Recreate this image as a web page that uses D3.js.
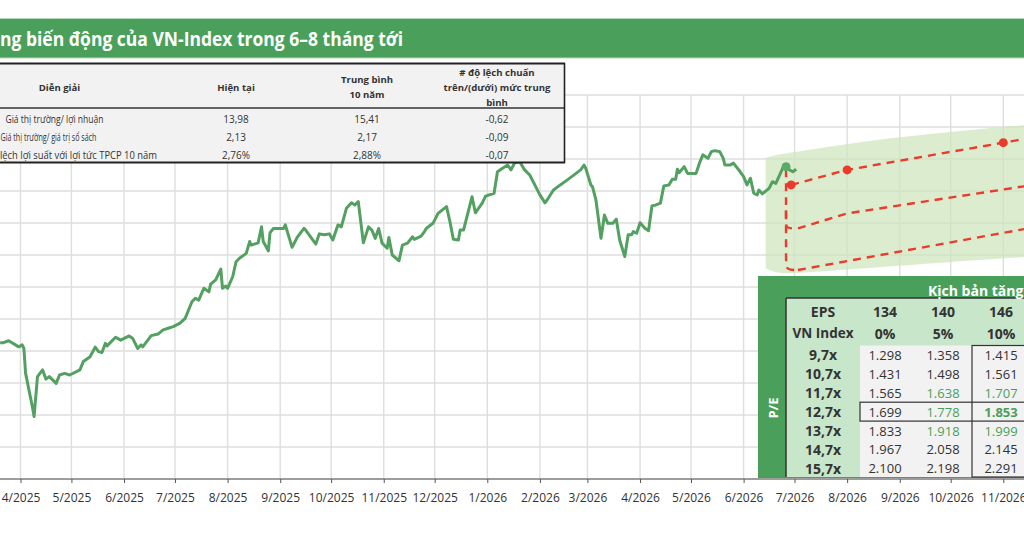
<!DOCTYPE html>
<html>
<head>
<meta charset="utf-8">
<script src="https://cdn.jsdelivr.net/npm/d3@7"></script>
<style>
html, body { margin: 0; padding: 0; background: #fff; }
svg { display: block; font-family: "Open Sans", sans-serif; }
</style>
</head>
<body>
<div id="chart"></div>
<script>
// ---- data ----
const titleText = "ng biến động của VN-Index trong 6–8 tháng tới";

const indexDates = ["2025-03-20","2025-03-22","2025-03-25","2025-03-31","2025-04-02","2025-04-03","2025-04-04","2025-04-08","2025-04-09","2025-04-11","2025-04-14","2025-04-16","2025-04-18","2025-04-22","2025-04-24","2025-04-27","2025-04-30","2025-05-06","2025-05-08","2025-05-12","2025-05-15","2025-05-17","2025-05-19","2025-05-21","2025-05-22","2025-05-27","2025-05-30","2025-06-04","2025-06-06","2025-06-09","2025-06-11","2025-06-12","2025-06-17","2025-06-21","2025-06-24","2025-06-27","2025-06-30","2025-07-04","2025-07-07","2025-07-11","2025-07-13","2025-07-15","2025-07-18","2025-07-21","2025-07-22","2025-07-25","2025-07-28","2025-07-29","2025-07-31","2025-08-01","2025-08-04","2025-08-06","2025-08-08","2025-08-12","2025-08-14","2025-08-15","2025-08-19","2025-08-21","2025-08-22","2025-08-25","2025-08-26","2025-08-28","2025-09-03","2025-09-04","2025-09-08","2025-09-11","2025-09-15","2025-09-16","2025-09-22","2025-09-24","2025-09-27","2025-09-30","2025-10-02","2025-10-05","2025-10-07","2025-10-10","2025-10-13","2025-10-15","2025-10-17","2025-10-20","2025-10-23","2025-10-25","2025-10-27","2025-10-29","2025-10-31","2025-11-03","2025-11-04","2025-11-06","2025-11-10","2025-11-12","2025-11-15","2025-11-18","2025-11-19","2025-11-23","2025-11-25","2025-11-26","2025-11-30","2025-12-03","2025-12-08","2025-12-10","2025-12-12","2025-12-15","2025-12-16","2025-12-18","2025-12-23","2025-12-25","2025-12-29","2025-12-31","2026-01-05","2026-01-07","2026-01-10","2026-01-13","2026-01-15","2026-01-17","2026-01-20","2026-01-23","2026-01-26","2026-01-29","2026-02-01","2026-02-04","2026-02-06","2026-02-09","2026-02-13","2026-02-17","2026-02-25","2026-02-27","2026-02-28","2026-03-03","2026-03-04","2026-03-06","2026-03-09","2026-03-11","2026-03-13","2026-03-16","2026-03-18","2026-03-20","2026-03-23","2026-03-25","2026-03-27","2026-03-28","2026-03-30","2026-04-01","2026-04-04","2026-04-06","2026-04-08","2026-04-10","2026-04-13","2026-04-15","2026-04-18","2026-04-20","2026-04-22","2026-04-23","2026-04-24","2026-04-27","2026-04-29","2026-05-04","2026-05-06","2026-05-08","2026-05-11","2026-05-13","2026-05-15","2026-05-18","2026-05-20","2026-05-21","2026-05-24","2026-05-26","2026-05-30","2026-06-01","2026-06-03","2026-06-05","2026-06-07","2026-06-09","2026-06-10","2026-06-12","2026-06-16","2026-06-18","2026-06-20","2026-06-24","2026-06-26","2026-06-28","2026-06-30","2026-07-02"];
const indexValues = [1326,1326,1332,1313,1319,1308,1230,1126,1095,1220,1241,1212,1220,1199,1225,1230,1225,1241,1267,1282,1312,1298,1295,1324,1316,1343,1334,1347,1340,1308,1319,1313,1348,1353,1366,1371,1376,1387,1402,1454,1465,1459,1496,1485,1509,1522,1556,1496,1503,1496,1532,1579,1590,1605,1642,1631,1638,1688,1642,1613,1670,1683,1683,1694,1624,1655,1683,1678,1634,1666,1663,1666,1647,1694,1688,1746,1763,1756,1767,1638,1688,1678,1652,1683,1637,1621,1655,1600,1582,1631,1637,1657,1649,1659,1673,1683,1699,1730,1751,1704,1649,1647,1678,1678,1782,1732,1762,1784,1793,1860,1871,1881,1866,1887,1892,1866,1850,1819,1788,1763,1778,1803,1819,1834,1866,1881,1871,1819,1813,1772,1652,1725,1699,1699,1712,1647,1595,1663,1663,1673,1668,1701,1683,1676,1753,1756,1762,1816,1819,1837,1837,1868,1857,1876,1855,1855,1887,1913,1902,1923,1926,1923,1902,1881,1881,1887,1860,1845,1819,1840,1793,1788,1803,1791,1808,1829,1824,1871,1876,1866,1860,1868];

const currentDate = "2026-06-26";
const currentValue = 1876;

// forecast scenarios (red dashed)
const highDates = ["2026-06-29","2026-08-01","2026-11-01","2026-12-01"];
const highValues = [1819,1866,1951,1979];
const highDotDates = ["2026-06-29","2026-08-01","2026-11-01"];
const highDotValues = [1819,1866,1951];
const midDates = ["2026-07-03","2026-08-01","2026-12-01"];
const midValues = [1683,1730,1829];
const lowDates = ["2026-07-03","2026-08-01","2026-12-01"];
const lowValues = [1553,1581,1698];
const lowConnectorDates = ["2026-06-26","2026-06-26","2026-06-26","2026-07-03"];
const lowConnectorValues = [1868,1580,1553,1553];
const midConnectorDates = ["2026-06-26","2026-06-26","2026-06-26","2026-07-03"];
const midConnectorValues = [1740,1700,1683,1683];

// shaded forecast band
const bandDates = ["2026-06-14","2026-06-18","2026-06-28","2026-07-27","2026-09-01","2026-10-06","2026-11-13","2026-12-01"];
const bandUpper = [1903,1911,1919,1944,1969,1988,2006,2012];
const bandLower = [1559,1547,1541,1553,1566,1581,1594,1598];

const yTicks = [900,1000,1100,1200,1300,1400,1500,1600,1700,1800,1900,2000,2100];

// summary table (top left)
const summaryHeaders = [["Diễn  giải"], ["Hiện tại"], ["Trung bình", "10 năm"], ["# độ lệch chuẩn", "trên/(dưới) mức trung", "bình"]];
const summaryLabels = ["Giá thị trường/ lợi nhuận", "Giá thị trường/ giá trị sổ sách", "Chênh lệch lợi suất với lợi tức TPCP 10 năm"];
const summaryCurrent = ["13,98", "2,13", "2,76%"];
const summaryAverage = ["15,41", "2,17", "2,88%"];
const summaryDeviation = ["-0,62", "-0,09", "-0,07"];

// scenario table (bottom right)
const scenarioTitle = "Kịch bản tăng trưởng EPS";
const epsValues = ["134", "140", "146"];
const growthLabels = ["0%", "5%", "10%"];
const peLabels = ["9,7x", "10,7x", "11,7x", "12,7x", "13,7x", "14,7x", "15,7x"];
const valuations = [
  ["1.298", "1.358", "1.415"],
  ["1.431", "1.498", "1.561"],
  ["1.565", "1.638", "1.707"],
  ["1.699", "1.778", "1.853"],
  ["1.833", "1.918", "1.999"],
  ["1.967", "2.058", "2.145"],
  ["2.100", "2.198", "2.291"]
];
const greenCells = ["2-1", "2-2", "3-1", "3-2", "4-1", "4-2"];
const boldCells = ["3-2"];

// ---- drawing ----
const width = 1024, height = 538;
const green = "#4aa05a", lineGreen = "#53a061", red = "#ea3b2c", dark = "#333";
const parse = d3.utcParse("%Y-%m-%d");

const svg = d3.select("#chart").append("svg")
  .attr("width", width)
  .attr("height", height);

const x = d3.scaleUtc()
  .domain([parse("2025-04-01"), parse("2026-11-01")])
  .range([20.5, 1003.3]);
const y = d3.scaleLinear().domain([900, 2100]).range([479, 95]);
const months = x.ticks(d3.utcMonth.every(1));

// title bar
svg.append("rect").attr("x", -2).attr("y", 18.5).attr("width", width + 4).attr("height", 39.5)
  .attr("fill", green).attr("stroke", "#b7dabc").attr("stroke-width", 1);
svg.append("text")
  .attr("x", 0).attr("y", 45.5)
  .attr("fill", "#fff").attr("font-weight", 700).attr("font-size", 19)
  .attr("textLength", 403).attr("lengthAdjust", "spacingAndGlyphs")
  .text(titleText);

// grid
const grid = svg.append("g").attr("stroke", "#dedede").attr("stroke-width", 1.4);
grid.selectAll(".h").data(yTicks).join("line")
  .attr("x1", 0).attr("x2", width)
  .attr("y1", d => y(d)).attr("y2", d => y(d));
grid.selectAll(".v").data(months).join("line")
  .attr("x1", d => x(d)).attr("x2", d => x(d))
  .attr("y1", y(2100)).attr("y2", y(900));

// forecast band
const band = bandDates.map((d, i) => ({date: parse(d), hi: bandUpper[i], lo: bandLower[i]}));
svg.append("path")
  .datum(band)
  .attr("fill", "#cfe6bd")
  .attr("fill-opacity", 0.72)
  .attr("d", d3.area().curve(d3.curveBasis)
    .x(d => x(d.date)).y0(d => y(d.lo)).y1(d => y(d.hi)));

// VN-Index line
const series = indexDates.map((d, i) => ({date: parse(d), value: indexValues[i]}));
const line = d3.line().x(d => x(d.date)).y(d => y(d.value));
svg.append("path")
  .datum(series)
  .attr("fill", "none")
  .attr("stroke", lineGreen)
  .attr("stroke-width", 3)
  .attr("stroke-linejoin", "round")
  .attr("d", line);

// scenario lines
function toPoints(dates, values) {
  return dates.map((d, i) => ({date: parse(d), value: values[i]}));
}
const dashed = svg.append("g")
  .attr("fill", "none")
  .attr("stroke", red)
  .attr("stroke-width", 2.4)
  .attr("stroke-dasharray", "8,6");
const curvy = d3.line().curve(d3.curveBasis).x(d => x(d.date)).y(d => y(d.value));
dashed.append("path").attr("d", curvy(toPoints(lowConnectorDates, lowConnectorValues)));
dashed.append("path").attr("d", curvy(toPoints(midConnectorDates, midConnectorValues)));
[[highDates, highValues], [midDates, midValues], [lowDates, lowValues]].forEach(([d, v]) => {
  dashed.append("path").attr("d", line(toPoints(d, v)));
});

svg.append("g").selectAll("circle")
  .data(toPoints(highDotDates, highDotValues))
  .join("circle")
  .attr("cx", d => x(d.date)).attr("cy", d => y(d.value))
  .attr("r", 4.5).attr("fill", red);

svg.append("circle")
  .attr("cx", x(parse(currentDate))).attr("cy", y(currentValue))
  .attr("r", 4.5).attr("fill", "#5aab68");

// x axis
svg.append("line")
  .attr("x1", 0).attr("x2", width)
  .attr("y1", 479).attr("y2", 479)
  .attr("stroke", "#555").attr("stroke-width", 1.2);
const xAxis = svg.append("g")
  .attr("transform", "translate(0,479)")
  .call(d3.axisBottom(x)
    .ticks(d3.utcMonth.every(1))
    .tickFormat(d => (d.getUTCMonth() + 1) + "/" + d.getUTCFullYear())
    .tickSize(4)
    .tickPadding(10));
xAxis.select(".domain").remove();
xAxis.selectAll("line").attr("stroke", "#555");
xAxis.selectAll("text")
  .attr("fill", dark)
  .attr("font-size", 12)
  .attr("font-family", "'Open Sans', sans-serif");

// ---- summary table ----
const tbl = svg.append("g").attr("fill", dark).attr("font-size", 10);
tbl.append("rect").attr("x", -2).attr("y", 63).attr("width", 567).attr("height", 100).attr("fill", "#f2f2f2");
tbl.append("line").attr("x1", 0).attr("x2", 565).attr("y1", 63.5).attr("y2", 63.5).attr("stroke", "#222").attr("stroke-width", 2);
tbl.append("line").attr("x1", 0).attr("x2", 565).attr("y1", 108).attr("y2", 108).attr("stroke", "#333").attr("stroke-width", 1.6);
tbl.append("line").attr("x1", 0).attr("x2", 565).attr("y1", 162.5).attr("y2", 162.5).attr("stroke", "#222").attr("stroke-width", 2);
tbl.append("line").attr("x1", 564.5).attr("x2", 564.5).attr("y1", 63).attr("y2", 163).attr("stroke", "#222").attr("stroke-width", 1.6);

const colX = [59.5, 236, 367, 497];
summaryHeaders.forEach((lines, c) => {
  lines.forEach((t, k) => {
    tbl.append("text")
      .attr("x", colX[c])
      .attr("y", 87 + (k - (lines.length - 1) / 2) * 15)
      .attr("text-anchor", "middle")
      .attr("dominant-baseline", "central")
      .attr("font-weight", 700)
      .attr("font-size", 9.6)
      .text(t);
  });
});
// row labels: the source font is narrower than Open Sans, so each label is fitted
// to the span it covers in the picture (the third one runs off the left edge)
const rowY = [119, 137, 154.5];
const labelSpans = [["start", 5.5, 98], ["start", 0.5, 96], ["end", 157, 188]];
tbl.selectAll(".lbl").data(summaryLabels).join("text")
  .attr("x", (d, r) => labelSpans[r][1]).attr("y", (d, r) => rowY[r])
  .attr("text-anchor", (d, r) => labelSpans[r][0])
  .attr("dominant-baseline", "central")
  .attr("font-size", 10.2)
  .attr("textLength", (d, r) => labelSpans[r][2])
  .attr("lengthAdjust", "spacingAndGlyphs")
  .text(d => d);
[summaryCurrent, summaryAverage, summaryDeviation].forEach((col, c) => {
  col.forEach((t, r) => {
    tbl.append("text")
      .attr("x", colX[c + 1]).attr("y", rowY[r])
      .attr("text-anchor", "middle")
      .attr("dominant-baseline", "central")
      .text(t);
  });
});

// ---- scenario table ----
const st = svg.append("g");
st.append("rect").attr("x", 758).attr("y", 276).attr("width", 280).attr("height", 202).attr("fill", green);
st.append("rect").attr("x", 786).attr("y", 298).attr("width", 250).attr("height", 179).attr("fill", "#c8e6c9");

const colBand = d3.scaleBand().domain(epsValues).range([856, 1030]);
const rowBand = d3.scaleBand().domain(peLabels).range([345.5, 477.8]);
const labelX = 823;

st.append("rect").attr("x", 860).attr("y", 345.5).attr("width", 180).attr("height", 131.5).attr("fill", "#f2f2f2");
st.append("line").attr("x1", 786).attr("x2", 786).attr("y1", 298).attr("y2", 477).attr("stroke", dark).attr("stroke-width", 1.5);
st.append("line").attr("x1", 786).attr("x2", 1040).attr("y1", 298).attr("y2", 298).attr("stroke", dark).attr("stroke-width", 1.5);
st.append("rect")
  .attr("x", colBand("146")).attr("y", 345.5)
  .attr("width", colBand.bandwidth()).attr("height", 131.5)
  .attr("fill", "none").attr("stroke", dark).attr("stroke-width", 1.2);
st.append("rect")
  .attr("x", 860).attr("y", rowBand("12,7x"))
  .attr("width", 180).attr("height", rowBand.bandwidth())
  .attr("fill", "none").attr("stroke", dark).attr("stroke-width", 1.2);

st.append("text")
  .attr("x", 928).attr("y", 290)
  .attr("dominant-baseline", "central")
  .attr("fill", "#fff").attr("font-weight", 700).attr("font-size", 14)
  .text(scenarioTitle);

st.append("text")
  .attr("transform", "translate(773,408) rotate(-90)")
  .attr("text-anchor", "middle")
  .attr("dominant-baseline", "central")
  .attr("fill", "#fff").attr("font-weight", 700).attr("font-size", 13)
  .text("P/E");

const head = st.append("g").attr("fill", dark).attr("font-weight", 700).attr("text-anchor", "middle").attr("dominant-baseline", "central");
head.append("text").attr("x", labelX).attr("y", 311.7).attr("font-size", 14).text("EPS");
head.append("text").attr("x", labelX).attr("y", 333.3).attr("font-size", 13.5).text("VN Index");
head.selectAll(".eps").data(epsValues).join("text")
  .attr("x", d => colBand(d) + colBand.bandwidth() / 2).attr("y", 311.7)
  .attr("font-size", 14).text(d => d);
head.selectAll(".gr").data(growthLabels).join("text")
  .attr("x", (d, i) => colBand(epsValues[i]) + colBand.bandwidth() / 2).attr("y", 333.3)
  .attr("font-size", 14).text(d => d);
head.selectAll(".pe").data(peLabels).join("text")
  .attr("x", labelX).attr("y", d => rowBand(d) + rowBand.bandwidth() / 2)
  .attr("font-size", 14).text(d => d);

const cells = [];
valuations.forEach((row, r) => row.forEach((v, c) => cells.push({r, c, v})));
st.append("g").selectAll("text").data(cells).join("text")
  .attr("x", d => colBand(epsValues[d.c]) + colBand.bandwidth() / 2)
  .attr("y", d => rowBand(peLabels[d.r]) + rowBand.bandwidth() / 2)
  .attr("text-anchor", "middle")
  .attr("dominant-baseline", "central")
  .attr("font-size", 13)
  .attr("font-weight", d => boldCells.includes(d.r + "-" + d.c) ? 700 : 400)
  .attr("fill", d => greenCells.includes(d.r + "-" + d.c) ? green : dark)
  .text(d => d.v);
</script>
</body>
</html>
